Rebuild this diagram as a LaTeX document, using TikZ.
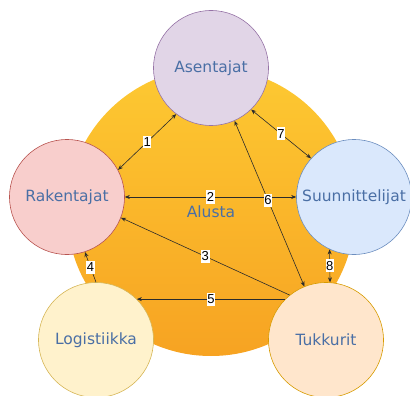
\documentclass[tikz,border=0pt]{standalone}
\usepackage{fontspec}
\setmainfont{DejaVu Sans}
\newfontfamily\numfont{Liberation Sans}
\usetikzlibrary{arrows.meta,shadings}

\definecolor{txtblue}{HTML}{4A6FA5}
\definecolor{linecol}{HTML}{2B2B2B}
\definecolor{baseTop}{RGB}{253,201,50}
\definecolor{baseBot}{RGB}{247,163,34}

\tikzset{
  actor/.style={circle, draw, line width=0.6pt, minimum size=115pt, inner sep=0pt,
    text=txtblue, font=\fontsize{15.5}{18}\selectfont},
  link/.style={draw=linecol, line width=0.6pt},
  both/.style={link, {Stealth[length=5pt,width=4pt]}-{Stealth[length=5pt,width=4pt]}},
  tip/.style={link, -{Stealth[length=5pt,width=4pt]}},
  num/.style={fill=white, text=black, inner xsep=0.6pt, inner ysep=2pt,
    font=\numfont\fontsize{13}{14}\selectfont, midway}
}

\begin{document}
\begin{tikzpicture}[x=1pt,y=-1pt]
\useasboundingbox (0,0) rectangle (410,396);

% shared platform
\shade[top color=baseTop, bottom color=baseBot] (211,212) circle[radius=144];
\node[text=txtblue, font=\fontsize{15.5}{18}\selectfont] (alusta) at (211,212) {Alusta};

% participants
\node[actor, fill={rgb,255:red,225;green,213;blue,231}, draw={rgb,255:red,150;green,115;blue,166}] (ase) at (211,68) {Asentajat};
\node[actor, fill={rgb,255:red,248;green,206;blue,204}, draw={rgb,255:red,184;green,84;blue,80}] (rak) at (67,197) {Rakentajat};
\node[actor, fill={rgb,255:red,218;green,232;blue,252}, draw={rgb,255:red,108;green,142;blue,191}] (suu) at (354,197) {Suunnittelijat};
\node[actor, fill={rgb,255:red,255;green,242;blue,204}, draw={rgb,255:red,214;green,182;blue,86}] (log) at (96,340) {Logistiikka};
\node[actor, fill={rgb,255:red,255;green,230;blue,204}, draw={rgb,255:red,215;green,155;blue,0}] (tuk) at (326,340) {Tukkurit};

% relations
\draw[both] (rak.28) -- node[num] {1} (ase.233);
\draw[both] (rak.0) -- node[num] {2} (suu.180);
\draw[tip] (tuk.129) -- node[num] {3} (rak.-21);
\draw[tip] (log.90) -- node[num] {4} (rak.-72);
\draw[tip] (tuk.135) -- node[num] {5} (log.45);
\draw[both] (tuk.112) -- node[num, pos=0.52] {6} (ase.294);
\draw[both] (ase.314) -- node[num] {7} (suu.138);
\draw[both] (suu.245) -- node[num] {8} (tuk.86);
\end{tikzpicture}
\end{document}
